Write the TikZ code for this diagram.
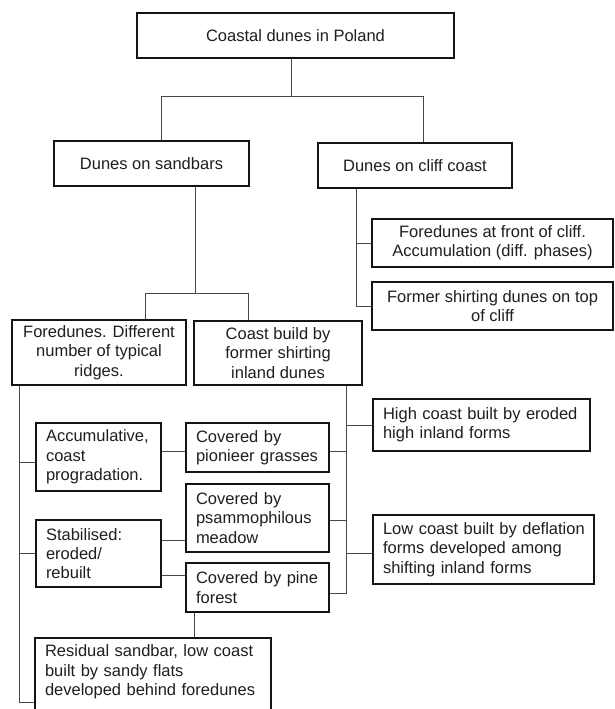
\documentclass[tikz,border=0pt]{standalone}
\usepackage{fontspec}
\setmainfont{Liberation Sans}
\newcommand\dfont{\fontsize{16.5}{19.3}\selectfont}
\begin{document}
\begin{tikzpicture}[x=1pt,y=-1pt,
 box/.style={draw=black!92,line width=1.6pt,inner sep=0pt,font=\dfont,text=black!88},
 cbox/.style={box,align=center},
 lbox/.style={box,align=left,inner xsep=10pt,inner ysep=0pt},
 conn/.style={draw=black!72,line width=0.9pt}]
\clip (0,0) rectangle (615,709);
\fill[white] (0,0) rectangle (615,709);
% boxes
\node[cbox,minimum width=317pt,minimum height=45pt] (top) at (295.5,35.5) {Coastal dunes in Poland};
\node[cbox,minimum width=195pt,minimum height=45pt] (sand) at (151.5,163.5) {Dunes on sandbars};
\node[cbox,minimum width=194pt,minimum height=45pt] (cliff) at (415,165.5) {Dunes on cliff coast};
\node[cbox,minimum width=241pt,minimum height=48pt] (front) at (492.5,243) {Foredunes at front of cliff.\\Accumulation (diff. phases)};
\node[cbox,minimum width=241pt,minimum height=48pt] (former) at (492.5,306) {Former shirting dunes on top\\of cliff};
\node[cbox,minimum width=174pt,minimum height=65pt] (fore) at (99,352.5) {Foredunes. Different\\number of typical\\ridges.};
\node[cbox,minimum width=168pt,minimum height=64pt] (build) at (278,353) {Coast build by\\former shirting\\inland dunes};
\node[lbox,text width=197pt,minimum height=52pt] (high) at (481.5,425) {\mbox{High coast built by eroded}\\high inland forms};
\node[lbox,text width=105pt,minimum height=68pt] (accum) at (98.5,457) {\mbox{Accumulative,}\\coast\\\mbox{progradation.}};
\node[lbox,text width=123pt,minimum height=49pt] (pion) at (257.5,447.5) {Covered by\\\mbox{pionieer grasses}};
\node[lbox,text width=123pt,minimum height=68pt] (psam) at (257.5,518) {Covered by\\\mbox{psammophilous}\\meadow};
\node[lbox,text width=105pt,minimum height=67pt] (stab) at (98.5,553.5) {Stabilised:\\eroded/\\rebuilt};
\node[lbox,text width=123pt,minimum height=49pt] (pine) at (257.5,587.5) {\mbox{Covered by pine}\\forest};
\node[lbox,text width=201pt,minimum height=69pt] (low) at (483.5,549.5) {\mbox{Low coast built by deflation}\\\mbox{forms developed among}\\\mbox{shifting inland forms}};
\node[lbox,text width=216pt,inner ysep=7pt,text depth=110pt,anchor=north] (resid) at (153,637) {\mbox{Residual sandbar, low coast}\\built by sandy flats\\\mbox{developed behind foredunes}};
% junction coordinates
\coordinate (t0) at (291,96);
\coordinate (a1) at (161,96);
\coordinate (a2) at (423,96);
\coordinate (c1) at (356,306);
\coordinate (s0) at (195,293);
\coordinate (s1) at (145,293);
\coordinate (s2) at (248,293);
\coordinate (l1) at (19,462);
\coordinate (l2) at (19,553.5);
\coordinate (l3) at (19,702);
\coordinate (m1) at (170,451);
\coordinate (m2) at (170,540);
\coordinate (m3) at (170,575);
\coordinate (p1) at (194,600);
\coordinate (r0) at (346,593);
\coordinate (r1) at (346,425);
\coordinate (r2) at (346,451);
\coordinate (r3) at (346,520);
\coordinate (r4) at (346,553);
% connectors
\draw[conn] (top.south -| t0) -- (t0);
\draw[conn] (a1 |- sand.north) -- (a1) -- (a2) -- (a2 |- cliff.north);
\draw[conn] (cliff.south -| c1) -- (c1) -- (former.west |- c1);
\draw[conn] (c1 |- front.west) -- (front.west);
\draw[conn] (sand.south -| s0) -- (s0);
\draw[conn] (s1 |- fore.north) -- (s1) -- (s2) -- (s2 |- build.north);
\draw[conn] (fore.south -| l3) -- (l3) -- (l3 -| resid.west);
\draw[conn] (l1) -- (l1 -| accum.west);
\draw[conn] (l2) -- (l2 -| stab.west);
\draw[conn] (accum.east |- m1) -- (pion.west |- m1);
\draw[conn] (stab.east |- m2) -- (psam.west |- m2);
\draw[conn] (stab.east |- m3) -- (pine.west |- m3);
\draw[conn] (pine.south -| p1) -- (resid.north -| p1);
\draw[conn] (build.south -| r0) -- (r0) -- (pine.east |- r0);
\draw[conn] (r1) -- (high.west |- r1);
\draw[conn] (pion.east |- r2) -- (r2);
\draw[conn] (psam.east |- r3) -- (r3);
\draw[conn] (r4) -- (low.west |- r4);
\end{tikzpicture}
\end{document}
